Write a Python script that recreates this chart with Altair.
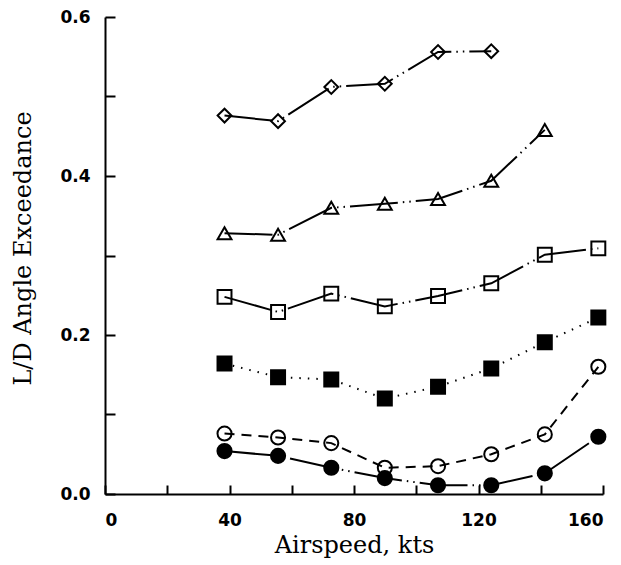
import altair as alt
import pandas as pd

airspeed = [38.4, 55.6, 72.7, 89.9, 107.0, 124.1, 141.3, 158.5]
diamond = [0.476, 0.469, 0.512, 0.516, 0.556, 0.557]
triangle = [0.328, 0.326, 0.360, 0.365, 0.371, 0.394, 0.458]
open_square = [0.248, 0.229, 0.252, 0.236, 0.249, 0.265, 0.301, 0.309]
filled_square = [0.164, 0.147, 0.144, 0.120, 0.135, 0.158, 0.191, 0.222]
open_circle = [0.076, 0.071, 0.064, 0.033, 0.035, 0.050, 0.075, 0.160]
filled_circle = [0.054, 0.048, 0.033, 0.020, 0.011, 0.011, 0.026, 0.072]

series_names = ["diamond", "triangle", "open_square", "filled_square", "open_circle", "filled_circle"]
series_values = [diamond, triangle, open_square, filled_square, open_circle, filled_circle]
shapes = ["diamond", "triangle-up", "square", "square", "circle", "circle"]
fills = ["transparent", "transparent", "transparent", "black", "transparent", "black"]
sizes = [190, 200, 180, 250, 200, 260]
dashes = [[48, 5, 1.5, 5, 1.5, 5], [48, 5, 1.5, 5, 1.5, 5], [48, 5, 1.5, 5, 1.5, 5],
          [1.5, 7], [10, 7], [48, 5, 1.5, 5, 1.5, 5]]

x_major = [0, 40, 80, 120, 160]
x_minor = [0, 20, 40, 60, 80, 100, 120, 140, 160]
y_major = [0.0, 0.2, 0.4, 0.6]
y_minor = [0.0, 0.1, 0.2, 0.3, 0.4, 0.5, 0.6]

rows = []
for name, vals in zip(series_names, series_values):
    for xv, yv in zip(airspeed, vals):
        rows.append({"series": name, "x": xv, "y": yv})
df = pd.DataFrame(rows)

W, H = 498, 477
label_font = "DejaVu Sans"
title_font = "DejaVu Serif"

xs = alt.Scale(domain=[0, 160], nice=False, zero=False)
ys = alt.Scale(domain=[0, 0.6], nice=False, zero=False)

lines = alt.Chart(df).mark_line(strokeWidth=2, color="black").encode(
    x=alt.X("x:Q", scale=xs, axis=alt.Axis(
        orient="bottom", values=x_major, format="d", ticks=False, tickSize=0,
        grid=False, domainColor="black", domainWidth=2,
        labelFont=label_font, labelFontWeight="bold", labelFontSize=17, labelColor="black",
        labelPadding=18, title="Airspeed, kts", titleFont=title_font,
        titleFontSize=24, titleFontWeight="normal", titleColor="black", titlePadding=5)),
    y=alt.Y("y:Q", scale=ys, axis=alt.Axis(
        orient="left", values=y_major, format=".1f", ticks=False, tickSize=0,
        grid=False, domainColor="black", domainWidth=2,
        labelFont=label_font, labelFontWeight="bold", labelFontSize=17, labelColor="black",
        labelPadding=15, title="L/D Angle Exceedance", titleFont=title_font,
        titleFontSize=24, titleFontWeight="normal", titleColor="black", titlePadding=24,
        titleY=231)),
    detail="series:N",
    strokeDash=alt.StrokeDash("series:N", scale=alt.Scale(domain=series_names, range=dashes), legend=None),
)

points = alt.Chart(df).mark_point(filled=True, stroke="black", strokeWidth=2, opacity=1).encode(
    x=alt.X("x:Q", scale=xs, axis=alt.Axis(
        orient="top", offset=-H, values=x_minor, labels=False, domain=False, grid=False,
        tickSize=9, tickWidth=2, tickColor="black", title=None)),
    y=alt.Y("y:Q", scale=ys, axis=alt.Axis(
        orient="right", offset=-W, values=y_minor, labels=False, domain=False, grid=False,
        tickSize=10, tickWidth=2, tickColor="black", title=None)),
    shape=alt.Shape("series:N", scale=alt.Scale(domain=series_names, range=shapes), legend=None),
    fill=alt.Fill("series:N", scale=alt.Scale(domain=series_names, range=fills), legend=None),
    size=alt.Size("series:N", scale=alt.Scale(domain=series_names, range=sizes), legend=None),
)

chart = alt.layer(lines, points).resolve_axis(x="independent", y="independent").properties(
    width=W, height=H,
    autosize=alt.AutoSizeParams(type="none"),
    padding={"left": 97, "top": 9, "right": 10, "bottom": 70},
).configure_view(stroke=None)

chart.save("out.html", embed_options={"renderer": "svg", "actions": False})
